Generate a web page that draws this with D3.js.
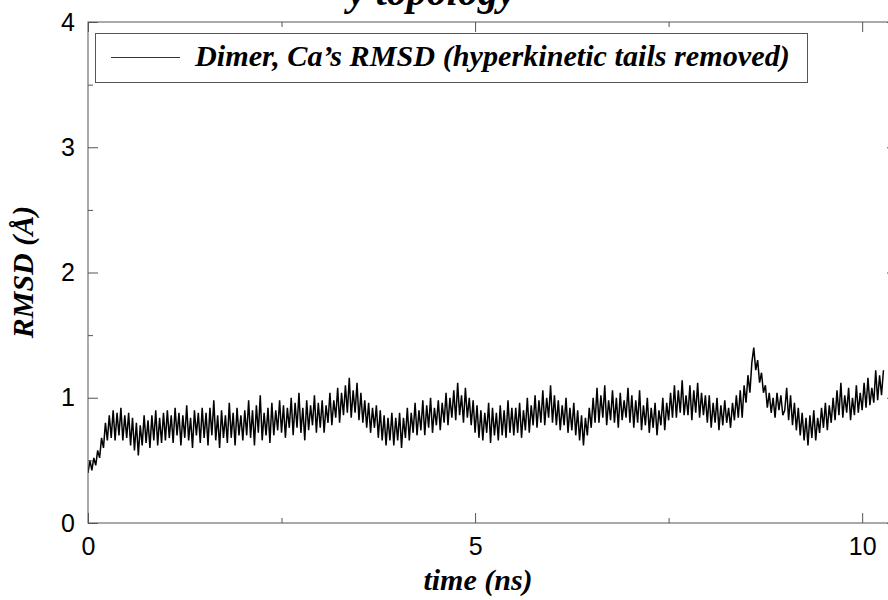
<!DOCTYPE html>
<html>
<head>
<meta charset="utf-8">
<script src="https://cdn.jsdelivr.net/npm/d3@7"></script>
<style>
  body { margin: 0; background: #fff; }
  svg { display: block; }
</style>
</head>
<body>
<svg id="chart" width="888" height="600"></svg>
<script>
// ---- data ----
const titleText = "y topology";
const seriesLabel = "Dimer, Ca\u2019s RMSD (hyperkinetic tails removed)";
const xAxisLabel = "time (ns)";
const yAxisLabel = "RMSD (\u00C5)";
const timeStep = 0.025; // ns between samples
const rmsd = [
  0.40,0.50,0.42,0.52,0.46,0.58,0.52,0.68,0.60,0.80,0.66,0.86,0.68,0.90,0.66,0.88,0.70,0.92,0.66,0.86,
  0.68,0.88,0.62,0.84,0.58,0.80,0.54,0.78,0.62,0.86,0.64,0.82,0.60,0.86,0.66,0.90,0.62,0.84,0.64,0.88,
  0.66,0.90,0.68,0.86,0.64,0.92,0.70,0.88,0.62,0.86,0.68,0.94,0.66,0.84,0.60,0.90,0.70,0.88,0.64,0.92,
  0.68,0.88,0.62,0.92,0.70,0.98,0.66,0.86,0.60,0.90,0.68,0.86,0.64,0.96,0.68,0.88,0.62,0.92,0.70,0.86,
  0.66,0.90,0.70,0.98,0.68,0.90,0.62,0.94,0.72,1.02,0.66,0.88,0.70,0.92,0.64,0.96,0.70,0.90,0.74,0.98,
  0.72,0.94,0.68,0.92,0.76,1.00,0.70,0.96,0.76,1.04,0.72,0.92,0.66,0.98,0.74,0.94,0.78,1.02,0.72,0.96,
  0.76,0.98,0.72,0.94,0.80,1.04,0.78,0.98,0.84,1.08,0.80,1.04,0.86,1.10,0.88,1.16,0.84,1.06,0.88,1.12,
  0.82,1.04,0.80,0.98,0.76,0.96,0.72,0.92,0.76,0.94,0.68,0.90,0.66,0.86,0.62,0.84,0.66,0.88,0.62,0.84,
  0.66,0.88,0.60,0.84,0.68,0.92,0.66,0.88,0.72,0.96,0.70,0.90,0.74,0.98,0.70,0.94,0.76,1.00,0.72,0.92,
  0.78,0.98,0.74,0.96,0.80,1.04,0.78,1.00,0.84,1.06,0.82,1.12,0.86,1.02,0.80,1.08,0.84,1.00,0.78,0.98,
  0.72,0.94,0.68,0.90,0.66,0.88,0.72,0.96,0.64,0.92,0.70,0.88,0.66,0.94,0.70,0.90,0.68,0.98,0.72,0.92,
  0.70,0.92,0.72,0.96,0.68,0.90,0.74,1.00,0.72,0.94,0.78,1.02,0.76,0.98,0.80,1.06,0.78,1.00,0.84,1.10,
  0.80,1.02,0.78,0.98,0.74,0.94,0.78,1.00,0.72,0.92,0.74,0.96,0.70,0.90,0.66,0.86,0.62,0.84,0.70,0.92,
  0.76,1.00,0.80,1.08,0.80,1.02,0.84,1.10,0.78,0.98,0.82,1.06,0.80,1.00,0.76,1.04,0.82,0.98,0.84,1.08,
  0.80,1.02,0.76,0.98,0.80,1.06,0.74,0.94,0.78,1.00,0.72,0.92,0.76,0.96,0.70,0.90,0.78,1.00,0.74,0.96,
  0.82,1.04,0.84,1.10,0.84,1.06,0.88,1.14,0.86,1.02,0.86,1.10,0.82,1.06,0.88,1.12,0.84,1.04,0.86,1.02,
  0.80,1.02,0.76,0.96,0.80,1.00,0.74,0.94,0.78,0.98,0.80,0.92,0.76,0.96,0.82,1.02,0.84,1.06,0.84,1.10,
  0.96,1.18,1.04,1.28,1.40,1.22,1.30,1.12,1.20,1.04,1.10,0.92,1.04,0.88,1.00,0.84,1.04,0.90,1.02,0.86,
  0.90,1.08,0.82,1.02,0.78,0.96,0.74,0.92,0.70,0.88,0.66,0.84,0.62,0.86,0.68,0.90,0.66,0.84,0.72,0.92,
  0.76,0.96,0.74,0.94,0.80,1.00,0.82,1.06,0.86,1.12,0.84,1.02,0.88,1.08,0.82,1.00,0.86,1.10,0.88,1.04,
  0.90,1.12,0.92,1.16,0.94,1.08,0.96,1.22,0.98,1.18,1.02,1.22
];
const xMajorTicks = [0, 5, 10];
const xMinorTicks = [2.5, 7.5];
const yMajorTicks = [0, 1, 2, 3, 4];
const yMinorTicks = [0.5, 1.5, 2.5, 3.5];
const xDomain = [0, 10.45];
const yDomain = [0, 4];

// ---- layout ----
const svg = d3.select("#chart");
const mLeft = 88, mRight = 897, mTop = 22, mBottom = 523;
const x = d3.scaleLinear().domain(xDomain).range([mLeft, mRight]);
const y = d3.scaleLinear().domain(yDomain).range([mBottom, mTop]);
const frameColor = "#555";
const tickFont = "'Liberation Sans', Arial, Helvetica, sans-serif";
const serif = "'Liberation Serif', 'Times New Roman', serif";

// title (mostly cut off at top)
svg.append("text")
  .attr("x", 348).attr("y", 5)
  .style("font-family", serif).style("font-weight", "bold").style("font-style", "italic")
  .style("font-size", "40px").attr("fill", "#000")
  .text(titleText);

// clip
svg.append("clipPath").attr("id", "clip").append("rect")
  .attr("x", mLeft).attr("y", mTop).attr("width", mRight - mLeft).attr("height", mBottom - mTop);

// data line
const data = rmsd.map((v, i) => ({ t: i * timeStep, v }));
svg.append("path")
  .datum(data)
  .attr("clip-path", "url(#clip)")
  .attr("fill", "none").attr("stroke", "#000").attr("stroke-width", 1.5)
  .attr("stroke-linejoin", "miter")
  .attr("d", d3.line().x(d => x(d.t)).y(d => y(d.v)));

function styleAxis(g) {
  g.select(".domain").remove();
  g.selectAll(".tick line").attr("stroke", frameColor).attr("stroke-width", 1);
  g.selectAll(".tick text").style("font-family", tickFont).style("font-size", "25px").attr("fill", "#000");
}

// bottom axis
svg.append("g").attr("transform", `translate(0,${mBottom})`)
  .call(d3.axisBottom(x).tickValues(xMajorTicks).tickSize(-10).tickPadding(14).tickFormat(d3.format("d")))
  .call(styleAxis);
svg.append("g").attr("transform", `translate(0,${mBottom})`)
  .call(d3.axisBottom(x).tickValues(xMinorTicks).tickSize(-5).tickFormat(""))
  .call(styleAxis);
// top axis
svg.append("g").attr("transform", `translate(0,${mTop})`)
  .call(d3.axisTop(x).tickValues(xMajorTicks).tickSize(-10).tickFormat(""))
  .call(styleAxis);
svg.append("g").attr("transform", `translate(0,${mTop})`)
  .call(d3.axisTop(x).tickValues(xMinorTicks).tickSize(-5).tickFormat(""))
  .call(styleAxis);
// left axis
svg.append("g").attr("transform", `translate(${mLeft},0)`)
  .call(d3.axisLeft(y).tickValues(yMajorTicks).tickSize(-10).tickPadding(13).tickFormat(d3.format("d")))
  .call(styleAxis);
svg.append("g").attr("transform", `translate(${mLeft},0)`)
  .call(d3.axisLeft(y).tickValues(yMinorTicks).tickSize(-5).tickFormat(""))
  .call(styleAxis);
// right axis
svg.append("g").attr("transform", `translate(${mRight},0)`)
  .call(d3.axisRight(y).tickValues(yMajorTicks).tickSize(-10).tickFormat(""))
  .call(styleAxis);
svg.append("g").attr("transform", `translate(${mRight},0)`)
  .call(d3.axisRight(y).tickValues(yMinorTicks).tickSize(-5).tickFormat(""))
  .call(styleAxis);

// frame
svg.append("rect")
  .attr("x", mLeft).attr("y", mTop).attr("width", mRight - mLeft).attr("height", mBottom - mTop)
  .attr("fill", "none").attr("stroke", frameColor).attr("stroke-width", 1);

// legend
const lg = svg.append("g");
lg.append("rect")
  .attr("x", 95.5).attr("y", 33.5).attr("width", 712).attr("height", 49)
  .attr("fill", "#fff").attr("stroke", frameColor).attr("stroke-width", 1);
lg.append("line")
  .attr("x1", 111).attr("x2", 180).attr("y1", 57.5).attr("y2", 57.5)
  .attr("stroke", "#000").attr("stroke-width", 0.8);
const lt = lg.append("text")
  .attr("x", 195).attr("y", 66)
  .style("font-family", serif).style("font-weight", "bold").style("font-style", "italic")
  .style("font-size", "26px").attr("fill", "#000")
  .text(seriesLabel);
const w = lt.node().getComputedTextLength();
lt.style("font-size", (26 * 595 / w).toFixed(2) + "px");

// axis titles
svg.append("text")
  .attr("transform", `translate(33,272) rotate(-90)`)
  .attr("text-anchor", "middle")
  .style("font-family", serif).style("font-weight", "bold").style("font-style", "italic")
  .style("font-size", "30px").attr("fill", "#000")
  .text(yAxisLabel);
svg.append("text")
  .attr("x", 478).attr("y", 590)
  .attr("text-anchor", "middle")
  .style("font-family", serif).style("font-weight", "bold").style("font-style", "italic")
  .style("font-size", "30px").attr("fill", "#000")
  .text(xAxisLabel);
</script>
</body>
</html>
